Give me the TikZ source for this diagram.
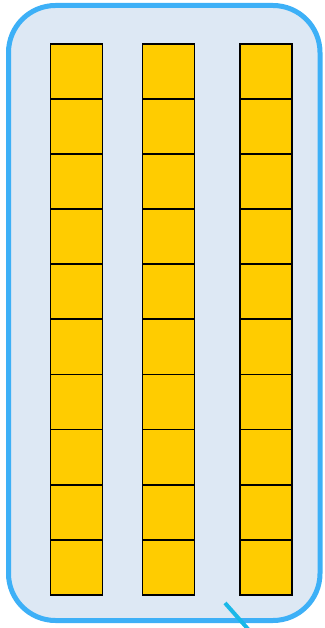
\documentclass[tikz,border=0pt]{standalone}
\begin{document}
\begin{tikzpicture}[x=1pt,y=-1pt,
  cell/.style={draw=black,line width=1.8pt,fill=cellyellow,minimum width=52pt,minimum height=55.1pt,inner sep=0pt,outer sep=0pt,anchor=north west}]
\definecolor{cellyellow}{HTML}{FFCC00}
\definecolor{panelfill}{HTML}{DDE8F4}
\definecolor{panelborder}{HTML}{3DB0F7}
\definecolor{tick}{HTML}{1AB8E8}
\useasboundingbox (0,0) rectangle (324,628);
\draw[panelborder,line width=5pt,fill=panelfill,rounded corners=47pt] (8.5,5.5) rectangle (320,620.5);
\foreach \c/\x in {a/50.5,b/142.5,c/240} {
  \foreach \r in {0,...,9} {
    \node[cell] (\c\r) at (\x,{43.8+55.1*\r}) {};
  }
}
\coordinate (t1) at (225,603);
\coordinate (t2) at (248,629);
\draw[tick,line width=4pt] (t1) -- (t2);
\end{tikzpicture}
\end{document}
